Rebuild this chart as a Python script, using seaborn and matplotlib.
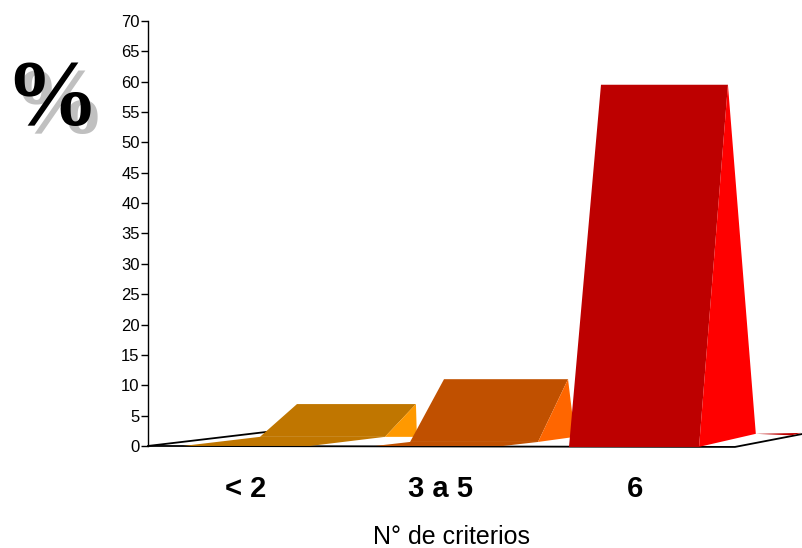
import matplotlib
matplotlib.use("Agg")
import matplotlib.pyplot as plt
import seaborn as sns
import numpy as np

# ---- data ----
categories = ["< 2", "3 a 5", "6"]
values = [6.9, 11.0, 59.5]
yticks = list(range(0, 75, 5))
front_colors = ["#C07600", "#C05000", "#BD0000"]
side_colors = ["#FF9900", "#FF6600", "#FF0000"]

# ---- pseudo-3D geometry (offsets in category units / value units) ----
geom = [
    dict(e=-0.32, a=0.074, b=0.264, c=0.874, d=0.715, f=0.331, g=0.879, h0=1.5, hg=1.5),
    dict(e=-0.336, a=-0.156, b=0.018, c=0.654, d=0.50, f=0.321, g=0.69, h0=0.66, hg=1.5),
    dict(e=-0.34, a=-0.341, b=-0.177, c=0.474, d=0.326, f=0.326, g=0.617, h0=-0.15, hg=2.0),
]

sns.set_theme(style="white")
plt.rcParams["font.family"] = ["Liberation Sans", "DejaVu Sans"]

W, H = 803, 548
fig = plt.figure(figsize=(W / 100, H / 100), dpi=100)
ax = fig.add_axes([148 / W, (H - 449) / H, (W - 148) / W, (449 - 21) / H])
ax.set_xlim(-0.5, -0.5 + (W - 148) / 195)
ax.set_ylim(-0.5, 70)

# floor outline
ax.plot([-0.5, 2.51, 2.86], [0, -0.16, 2.0], color="black", lw=1.3, zorder=1,
        clip_on=False, solid_joinstyle="miter")
ax.plot([-0.5, 0.25], [0, 2.85], color="black", lw=1.3, zorder=1, clip_on=False)

for i, (v, g) in enumerate(zip(values, geom)):
    z = 2 + i
    h0 = g["h0"]
    # floor strip
    ax.fill([i + g["e"], i + g["a"], i + g["d"], i + g["f"]], [0, h0, h0, 0],
            color=front_colors[i], lw=0, zorder=z)
    # front face
    ax.fill([i + g["a"], i + g["b"], i + g["c"], i + g["d"]], [h0, v, v, h0],
            color=front_colors[i], lw=0, zorder=z)
    # side face
    ax.fill([i + g["d"], i + g["c"], i + g["g"]], [h0, v, g["hg"]],
            color=side_colors[i], lw=0, zorder=z)
# small back sliver of the last ribbon
ax.fill([2 + 0.617, 2 + 0.85, 2 + 0.80], [2.0, 2.15, 1.75], color=front_colors[2], lw=0, zorder=4)

# axes styling
for s in ["top", "right", "bottom"]:
    ax.spines[s].set_visible(False)
ax.spines["left"].set_bounds(0, 70)
ax.spines["left"].set_color("black")
ax.spines["left"].set_linewidth(1.0)
ax.set_yticks(yticks)
ax.set_yticklabels([str(t) for t in yticks])
ax.tick_params(axis="y", direction="out", length=5, width=1, color="black",
               labelsize=12, labelcolor="black", pad=1, left=True)
ax.set_xticks(range(len(categories)))
ax.set_xticklabels(categories, fontsize=21, fontweight="bold", color="black")
ax.tick_params(axis="x", length=0, pad=19)
ax.set_xlabel("N° de criterios", fontsize=18, color="black", va="center")
ax.xaxis.set_label_coords((452 - 148) / 655, (449 - 537) / 428)
ax.grid(False)
ax.set_facecolor("white")

# big percent sign with shadow
fig.text(11 / W, 1 - 109 / H, "%", fontsize=68, fontweight="bold", color="#C0C0C0",
         family=["Liberation Serif"], ha="left", va="center")
fig.text(4 / W, 1 - 102 / H, "%", fontsize=68, fontweight="bold", color="black",
         family=["Liberation Serif"], ha="left", va="center")

fig.savefig("out.png", dpi=100, facecolor="white")
